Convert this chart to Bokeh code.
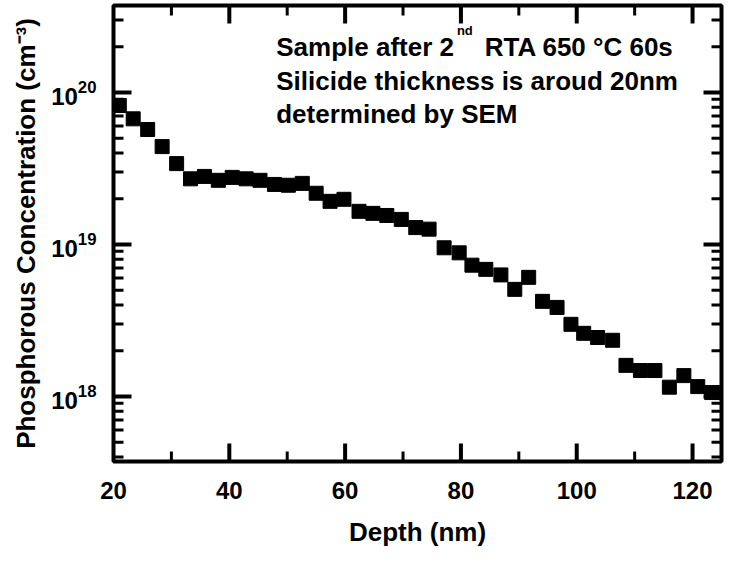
from bokeh.plotting import figure
from bokeh.models import SingleIntervalTicker, LogTicker, Label, Range1d, ColumnDataSource
from bokeh.embed import file_html
from bokeh.resources import INLINE

# Depth (nm) of each SIMS point
depth_nm = [21.0, 23.4, 25.9, 28.4, 30.9, 33.3, 35.7, 38.1, 40.5, 42.9,
            45.3, 47.8, 50.2, 52.6, 55.0, 57.4, 59.8, 62.4, 64.8, 67.2,
            69.7, 72.2, 74.5, 77.1, 79.7, 81.9, 84.3, 86.9, 89.3, 91.7,
            94.1, 96.6, 99.0, 101.2, 103.6, 106.2, 108.5, 111.0, 113.5, 116.0,
            118.5, 120.9, 123.3, 125.5]
# Phosphorous concentration (cm^-3)
concentration = [8.2e19, 6.7e19, 5.7e19, 4.4e19, 3.4e19, 2.7e19, 2.8e19, 2.64e19, 2.76e19, 2.7e19,
                 2.64e19, 2.48e19, 2.45e19, 2.52e19, 2.17e19, 1.92e19, 1.98e19, 1.65e19, 1.6e19, 1.55e19,
                 1.46e19, 1.29e19, 1.26e19, 9.5e18, 8.8e18, 7.3e18, 6.85e18, 6.3e18, 5.06e18, 6.07e18,
                 4.22e18, 3.85e18, 2.98e18, 2.6e18, 2.44e18, 2.34e18, 1.6e18, 1.48e18, 1.48e18, 1.15e18,
                 1.37e18, 1.16e18, 1.06e18, 1.06e18]

x_limits = (20, 125)
y_limits = (3.73e17, 3.73e20)

# tick positions (major labelled, minor unlabelled)
x_major_ticks = [40, 60, 80, 100, 120]
x_minor_ticks = [30, 50, 70, 90, 110]
y_major_ticks = [1e18, 1e19, 1e20]
y_minor_ticks = [m * 10.0 ** e for e in (17, 18, 19, 20) for m in range(2, 10)
                 if y_limits[0] < m * 10.0 ** e < y_limits[1]]

FONT = "Liberation Sans"

p = figure(width=726, height=552, output_backend="svg", toolbar_location=None,
           y_axis_type="log", x_range=Range1d(*x_limits), y_range=Range1d(*y_limits),
           min_border=0, min_border_left=113, min_border_right=5, min_border_top=5,
           min_border_bottom=91)
p.grid.visible = False
p.outline_line_color = "black"
p.outline_line_width = 4
p.background_fill_color = "white"
p.border_fill_color = "white"

src = ColumnDataSource(dict(x=depth_nm, y=concentration))
p.scatter("x", "y", source=src, marker="square", size=14, color="black")

# inward tick marks on all four sides: thin filled bars centred on the frame edge,
# the outer half is clipped by the frame
MAJ, MIN = 18, 10
for xs, ln, lw in ((x_major_ticks, MAJ, 4), (x_minor_ticks, MIN, 3)):
    for edge in y_limits:
        p.rect(x=xs, y=[edge] * len(xs), width=lw, height=2 * ln,
               width_units="screen", height_units="screen",
               fill_color="black", line_color=None)
for ys, ln, lw in ((y_major_ticks, MAJ, 4), (y_minor_ticks, MIN, 3)):
    for edge in x_limits:
        p.rect(x=[edge] * len(ys), y=ys, width=2 * ln, height=lw,
               width_units="screen", height_units="screen",
               fill_color="black", line_color=None)


def style(ax):
    ax.axis_line_color = None
    ax.major_tick_in = 0
    ax.major_tick_out = 0
    ax.minor_tick_in = 0
    ax.minor_tick_out = 0
    ax.major_label_text_font = FONT
    ax.major_label_text_font_style = "bold"
    ax.major_label_text_font_size = "24px"
    ax.major_label_text_color = "black"
    ax.axis_label_text_font = FONT
    ax.axis_label_text_font_style = "bold"
    ax.axis_label_text_font_size = "26px"
    ax.axis_label_text_color = "black"


xb = p.xaxis[0]
xb.ticker = SingleIntervalTicker(interval=20, num_minor_ticks=2)
style(xb)
xb.major_label_standoff = 20
xb.axis_label = "Depth (nm)"
xb.axis_label_standoff = 15

yl = p.yaxis[0]
yl.ticker = LogTicker(mantissas=[1], desired_num_ticks=3, num_minor_ticks=10)
style(yl)
yl.major_label_standoff = 17
yl.axis_label = "Phosphorous Concentration (cm\u207b\u00b3)"
yl.axis_label_standoff = 7


def lab(x, y, text, size="26px", baseline="alphabetic"):
    p.add_layout(Label(x=x, y=y, text=text, text_font=FONT, text_font_style="bold",
                       text_font_size=size, text_color="black", text_baseline=baseline))


lab(48.1, 1.98e20, "Sample after 2")
lab(79.3, 2.85e20, "nd", size="13px", baseline="top")
lab(84.1, 1.98e20, "RTA 650 \u00b0C 60s")
lab(48.1, 1.18e20, "Silicide thickness is aroud 20nm")
lab(48.1, 7.17e19, "determined by SEM")

open("out.html", "w").write(file_html(p, INLINE))
